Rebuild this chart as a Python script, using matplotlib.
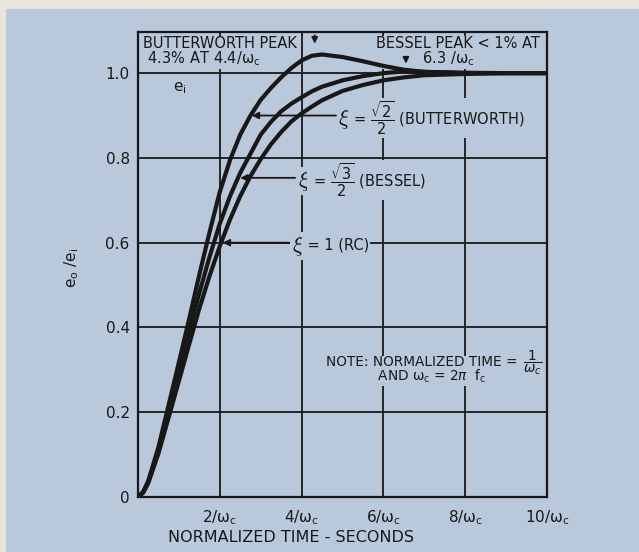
import matplotlib.pyplot as plt
from matplotlib.patches import Rectangle

# normalized time (units of 1/wc)
t = [0, 0.125, 0.25, 0.5, 0.75, 1.0, 1.25, 1.5, 1.75, 2.0, 2.25, 2.5, 2.75, 3.0, 3.25,
     3.5, 3.75, 4.0, 4.25, 4.5, 5.0, 5.5, 6.0, 6.5, 7.0, 8.0, 9.0, 10.0]

# e0/ei
butterworth = [0, 0.012, 0.038, 0.118, 0.218, 0.318, 0.42, 0.525, 0.625, 0.72, 0.795,
               0.855, 0.90, 0.937, 0.965, 0.99, 1.012, 1.03, 1.041, 1.044, 1.038, 1.028,
               1.017, 1.008, 1.003, 1.0, 1.0, 1.0]
bessel = [0, 0.011, 0.035, 0.11, 0.202, 0.297, 0.39, 0.482, 0.567, 0.645, 0.71, 0.765,
          0.81, 0.855, 0.885, 0.91, 0.928, 0.943, 0.957, 0.968, 0.983, 0.993, 1.0,
          1.004, 1.003, 1.001, 1.0, 1.0]
rc = [0, 0.01, 0.033, 0.103, 0.188, 0.274, 0.36, 0.445, 0.522, 0.592, 0.655, 0.71,
      0.757, 0.797, 0.832, 0.861, 0.886, 0.905, 0.921, 0.936, 0.958, 0.972, 0.983,
      0.99, 0.995, 0.998, 1.0, 1.0]

xticks = [2, 4, 6, 8, 10]
xticklabels = [r'$\mathregular{%d/\omega_c}$' % v for v in xticks]
yticks = [0, 0.2, 0.4, 0.6, 0.8, 1.0]
yticklabels = ['0', '0.2', '0.4', '0.6', '0.8', '1.0']

bg = '#b9c8db'
ink = '#181818'

plt.rcParams['font.family'] = ['DejaVu Sans']
plt.rcParams['mathtext.fontset'] = 'dejavusans'

fig = plt.figure(figsize=(6.39, 5.52), dpi=100)
fig.patch.set_facecolor('#e9e5dc')
fig.patches.append(Rectangle((6 / 639, 0), 1, 1 - 9 / 552, transform=fig.transFigure,
                             facecolor=bg, edgecolor='none', zorder=-10))

ax = fig.add_axes([0.216, 0.0996, 0.640, 0.8424])
ax.set_facecolor(bg)
ax.set_xlim(0, 10)
ax.set_ylim(0, 1.097)

# grid (the 1.0 line stays above the notes)
for x in xticks[:-1]:
    ax.plot([x, x], [0, 1.097], color=ink, lw=1.3, zorder=1)
for y in yticks[1:]:
    ax.plot([0, 10], [y, y], color=ink, lw=1.3, zorder=3.5 if y == 1.0 else 1)

# curves
for ys in (butterworth, bessel, rc):
    ax.plot(t, ys, color=ink, lw=3.0, solid_capstyle='round', zorder=4)

ax.set_xticks(xticks)
ax.set_xticklabels(xticklabels, fontsize=11, color=ink)
ax.set_yticks(yticks)
ax.set_yticklabels(yticklabels, fontsize=11, color=ink)
ax.tick_params(length=0, pad=6)
ax.tick_params(axis='x', pad=8)
for s in ax.spines.values():
    s.set_linewidth(1.6)
    s.set_color(ink)

box = dict(boxstyle='square,pad=0.08', fc=bg, ec='none')
tk = dict(color=ink, zorder=3, bbox=box)

# top band notes
ax.text(0.12, 1.088, 'BUTTERWORTH PEAK\n 4.3% AT 4.4/$\\mathregular{\\omega_c}$',
        fontsize=10.5, va='top', ha='left', linespacing=0.9, **tk)
ax.text(5.83, 1.088, 'BESSEL PEAK < 1% AT\n          6.3 /$\\mathregular{\\omega_c}$',
        fontsize=10.5, va='top', ha='left', linespacing=0.9, **tk)
ax.annotate('', xy=(4.32, 1.063), xytext=(4.32, 1.096),
            arrowprops=dict(arrowstyle='-|>', color=ink, lw=1.2, mutation_scale=9), zorder=3)
ax.annotate('', xy=(6.55, 1.016), xytext=(6.55, 1.042),
            arrowprops=dict(arrowstyle='-|>', color=ink, lw=1.2, mutation_scale=9), zorder=3)

ax.text(0.85, 0.965, r'$\mathregular{e_i}$', fontsize=11, va='center', ha='left', color=ink)

# damping labels with arrows
arrow = dict(arrowstyle='-|>', color=ink, lw=1.3, mutation_scale=10, shrinkA=0, shrinkB=0)
labels = [
    (2.78, 4.84, 0.90, r' = $\dfrac{\sqrt{2}}{2}$ (BUTTERWORTH)'),
    (2.50, 3.84, 0.753, r' = $\dfrac{\sqrt{3}}{2}$ (BESSEL)'),
    (2.07, 3.70, 0.60, r' = 1 (RC)'),
]
for tip, start, y, s in labels:
    ax.annotate('', xy=(tip, y), xytext=(start, y), arrowprops=arrow, zorder=2)
    ax.text(start + 0.06, y - 0.008, r'$\xi$', fontsize=16, va='center', ha='left',
            math_fontfamily='cm', **tk)
    ax.text(start + 0.33, y - 0.006, s, fontsize=10.5, va='center', ha='left', **tk)

# note
ax.text(4.6, 0.334, 'NOTE: NORMALIZED TIME =\n            AND $\\mathregular{\\omega_c}$ = 2$\\pi$  $\\mathregular{f_c}$',
        fontsize=9.8, va='top', ha='left', linespacing=0.85, **tk)
ax.text(9.42, 0.318, r'$\dfrac{1}{\omega_c}$', fontsize=9.8, va='center', ha='left', **tk)

# axis titles
fig.text(168 / 639, 1 - 538 / 552, 'NORMALIZED TIME - SECONDS', fontsize=11.5,
         ha='left', va='center', color=ink)
fig.text(72 / 639, 1 - 268 / 552, r'$\mathregular{e_o\ /e_i}$', fontsize=11,
         rotation=90, ha='center', va='center', color=ink)

fig.savefig('out.png', dpi=100, facecolor=fig.get_facecolor())
